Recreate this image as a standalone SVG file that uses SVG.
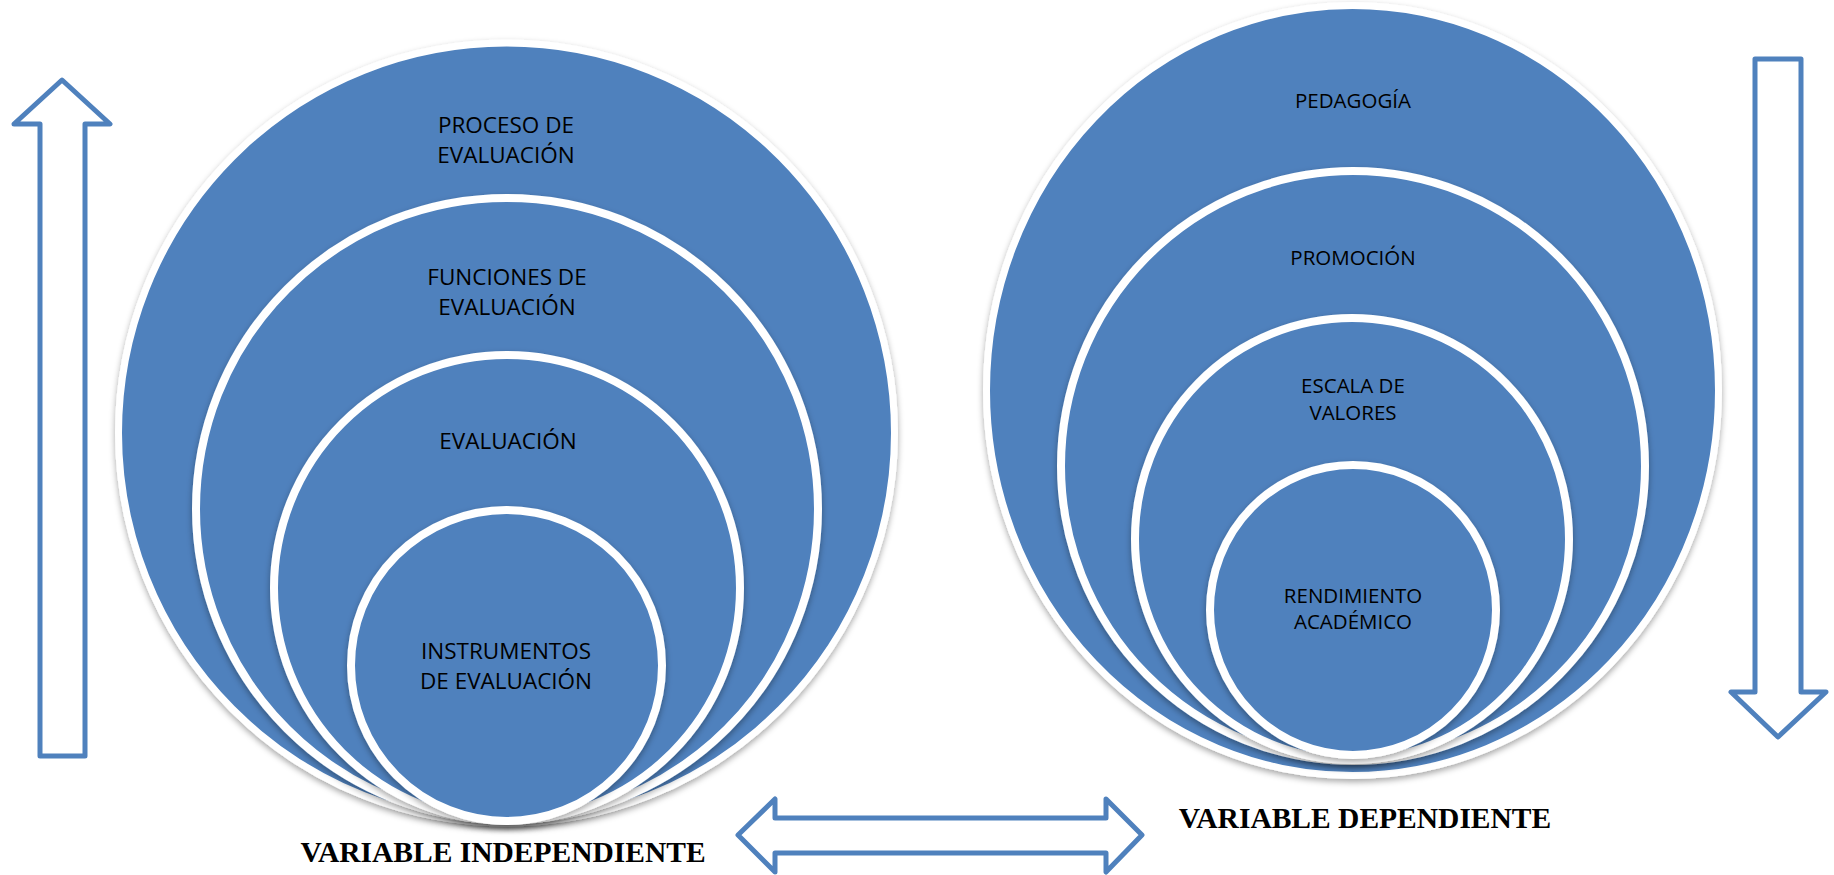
<svg xmlns="http://www.w3.org/2000/svg" width="1834" height="875" viewBox="0 0 1834 875">
<style>
.c{fill:#4F81BD;stroke:#FFFFFF;filter:url(#sh)}
.o{stroke-width:7}
.i{stroke-width:8}
.a{fill:#FFFFFF;stroke:#4F81BD;stroke-width:5;stroke-linejoin:round}
.t{font-family:"Open Sans","Liberation Sans",sans-serif;fill:#000;text-anchor:middle}
.tl{font-size:22.5px}
.tr{font-size:20.5px}
.v{font-family:"Liberation Serif","Times New Roman",serif;font-weight:bold;font-size:29.5px;fill:#000;text-anchor:middle}
</style>
<defs>
<filter id="sh" x="-10%" y="-10%" width="120%" height="125%">
<feDropShadow dx="0" dy="3" stdDeviation="3" flood-color="#000" flood-opacity="0.35"/>
</filter>
</defs>
<rect width="1834" height="875" fill="#FFFFFF"/>
<g id="connectors">
<polygon id="arrow-up" class="a" points="62,80 110,124 85,124 85,756 40,756 40,124 14,124"/>
<polygon id="arrow-down" class="a" points="1755,59 1801,59 1801,692 1826,692 1778,737 1731,692 1755,692"/>
<polygon id="arrow-both" class="a" points="738,835 775,799 775,818 1106,818 1106,799 1142,835 1106,872 1106,853 775,853 775,872"/>
</g>
<g id="node-proceso">
<ellipse class="c o" cx="506.5" cy="433" rx="388" ry="390"/>
<text class="t tl" x="506" y="133">PROCESO DE</text>
<text class="t tl" x="506" y="163">EVALUACIÓN</text>
</g>
<g id="node-funciones">
<circle class="c i" cx="507" cy="509" r="311"/>
<text class="t tl" x="507" y="285">FUNCIONES DE</text>
<text class="t tl" x="507" y="315">EVALUACIÓN</text>
</g>
<g id="node-evaluacion">
<circle class="c i" cx="507" cy="588" r="233"/>
<text class="t tl" x="508" y="449">EVALUACIÓN</text>
</g>
<g id="node-instrumentos">
<circle class="c i" cx="506.5" cy="665.5" r="155.5"/>
<text class="t tl" x="506" y="659">INSTRUMENTOS</text>
<text class="t tl" x="506" y="689">DE EVALUACIÓN</text>
</g>
<g id="node-pedagogia">
<ellipse class="c o" cx="1352.5" cy="390.5" rx="366" ry="385"/>
<text class="t tr" x="1353" y="108">PEDAGOGÍA</text>
</g>
<g id="node-promocion">
<ellipse class="c i" cx="1353" cy="466" rx="292" ry="295"/>
<text class="t tr" x="1353" y="265">PROMOCIÓN</text>
</g>
<g id="node-escala">
<ellipse class="c i" cx="1352" cy="539" rx="217" ry="221"/>
<text class="t tr" x="1353" y="393">ESCALA DE</text>
<text class="t tr" x="1353" y="420">VALORES</text>
</g>
<g id="node-rendimiento">
<ellipse class="c i" cx="1353" cy="610" rx="143" ry="145"/>
<text class="t tr" x="1353" y="603">RENDIMIENTO</text>
<text class="t tr" x="1353" y="629">ACADÉMICO</text>
</g>
<g id="labels">
<text class="v" x="503" y="862">VARIABLE INDEPENDIENTE</text>
<text class="v" x="1365" y="828">VARIABLE DEPENDIENTE</text>
</g>
</svg>
